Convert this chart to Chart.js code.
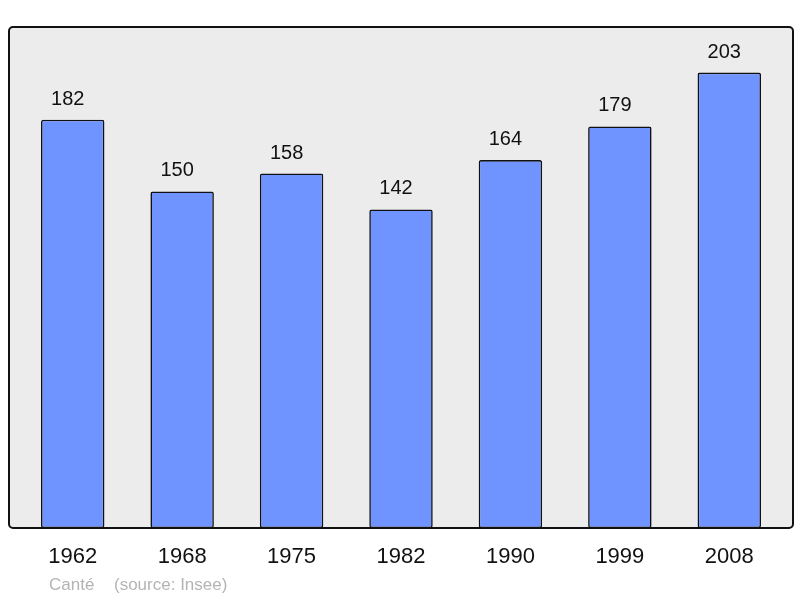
<!DOCTYPE html>
<html>
<head>
<meta charset="utf-8">
<script src="https://cdn.jsdelivr.net/npm/chart.js@4"></script>
<style>
  html, body { margin: 0; padding: 0; background: #fff; }
  #wrap { width: 800px; height: 598px; position: relative; }
</style>
</head>
<body>
<div id="wrap"><canvas id="popChart"></canvas></div>
<script>
const years = ['1962', '1968', '1975', '1982', '1990', '1999', '2008'];
const population = [182, 150, 158, 142, 164, 179, 203];
const commune = 'Canté';
const source = '(source: Insee)';

function roundRect(ctx, x, y, w, h, r) {
    ctx.beginPath();
    ctx.moveTo(x + r, y);
    ctx.arcTo(x + w, y, x + w, y + h, r);
    ctx.arcTo(x + w, y + h, x, y + h, r);
    ctx.arcTo(x, y + h, x, y, r);
    ctx.arcTo(x, y, x + w, y, r);
    ctx.closePath();
}

const frame = {
    id: 'frame',
    beforeDatasetsDraw(chart) {
        const { ctx, chartArea: a } = chart;
        ctx.save();
        roundRect(ctx, a.left - 9, a.top, a.right - a.left + 18, a.bottom - a.top, 4);
        ctx.fillStyle = '#ececec';
        ctx.fill();
        ctx.restore();
    },
    afterDatasetsDraw(chart) {
        const { ctx, chartArea: a } = chart;
        ctx.save();
        roundRect(ctx, a.left - 9, a.top, a.right - a.left + 18, a.bottom - a.top, 4);
        ctx.lineWidth = 2;
        ctx.strokeStyle = '#111';
        ctx.stroke();

        // values above the bars (sit a bit left of centre, as in the original)
        ctx.font = '20px "Liberation Sans", Arial, sans-serif';
        ctx.fillStyle = '#111';
        ctx.textAlign = 'center';
        ctx.textBaseline = 'alphabetic';
        chart.getDatasetMeta(0).data.forEach((bar, i) => {
            ctx.fillText(population[i], bar.x - 5, bar.y - 15);
        });

        // footer
        ctx.font = '17px "Liberation Sans", Arial, sans-serif';
        ctx.fillStyle = '#b4b4b4';
        ctx.textAlign = 'left';
        ctx.fillText(commune, 49, 590);
        ctx.fillText(source, 114, 590);
        ctx.restore();
    }
};

new Chart(document.getElementById('popChart'), {
    type: 'bar',
    data: {
        labels: years,
        datasets: [{
            data: population,
            backgroundColor: '#7094ff',
            borderColor: '#111',
            borderWidth: 1.6,
            borderRadius: 2,
            borderSkipped: false,
            categoryPercentage: 1,
            barPercentage: 0.58
        }]
    },
    options: {
        responsive: true,
        maintainAspectRatio: false,
        devicePixelRatio: 1,
        animation: false,
        layout: { padding: { left: 18, right: 16, top: 27, bottom: 0 } },
        plugins: { legend: { display: false }, tooltip: { enabled: false } },
        scales: {
            x: {
                grid: { display: false, drawTicks: false },
                border: { display: false },
                ticks: {
                    color: '#111',
                    padding: 16,
                    font: { family: '"Liberation Sans", Arial, sans-serif', size: 22 }
                },
                afterFit(scale) { scale.height = 70; }
            },
            y: { display: false, min: 0, max: 223.3 }
        }
    },
    plugins: [frame]
});
</script>
</body>
</html>
